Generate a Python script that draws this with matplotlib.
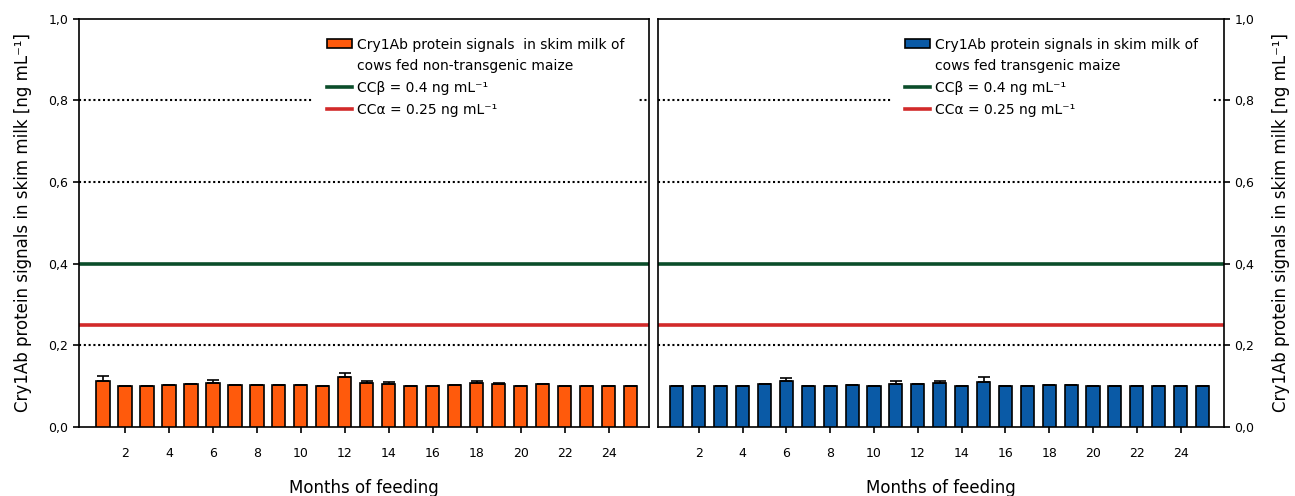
import numpy as np
import matplotlib
matplotlib.use("Agg")
import matplotlib.pyplot as plt
from matplotlib.patches import Patch
from matplotlib.lines import Line2D

# Cry1Ab signals per month of feeding (ng/mL), upper SEM only
months = np.arange(1, 26)
control_mean = [0.112, 0.100, 0.100, 0.103, 0.105, 0.107, 0.102, 0.103, 0.104, 0.103,
                0.101, 0.123, 0.108, 0.106, 0.100, 0.100, 0.102, 0.107, 0.105, 0.100,
                0.105, 0.100, 0.100, 0.100, 0.100]
control_err = [0.012, 0.0, 0.0, 0.001, 0.001, 0.009, 0.0, 0.0, 0.0, 0.0,
               0.0, 0.009, 0.005, 0.004, 0.0, 0.0, 0.0, 0.006, 0.003, 0.0,
               0.001, 0.0, 0.0, 0.0, 0.0]
gm_mean = [0.100, 0.100, 0.100, 0.100, 0.105, 0.112, 0.100, 0.100, 0.104, 0.100,
           0.106, 0.105, 0.107, 0.100, 0.111, 0.100, 0.100, 0.103, 0.103, 0.100,
           0.100, 0.100, 0.100, 0.100, 0.100]
gm_err = [0.0, 0.0, 0.0, 0.0, 0.001, 0.007, 0.0, 0.0, 0.0, 0.0,
          0.006, 0.001, 0.005, 0.0, 0.011, 0.0, 0.0, 0.0, 0.0, 0.0,
          0.0, 0.0, 0.0, 0.0, 0.0]

cc_beta = 0.4
cc_alpha = 0.25
grid_levels = [0.2, 0.6, 0.8]
xtick_months = np.arange(2, 25, 2)
ytick_vals = [0.0, 0.2, 0.4, 0.6, 0.8, 1.0]
ytick_labels = ["0,0", "0,2", "0,4", "0,6", "0,8", "1,0"]

orange = "#FF5A0C"
blue = "#0A5AA6"
green = "#0B4D2A"
red = "#D22A2A"

plt.rcParams["font.family"] = "DejaVu Sans"

fig = plt.figure(figsize=(12.95, 4.96), dpi=100)
ax1 = fig.add_axes([0.061, 0.139, 0.440, 0.823])
ax2 = fig.add_axes([0.508, 0.139, 0.437, 0.823])

ylabel = "Cry1Ab protein signals in skim milk [ng mL⁻¹]"

panels = [
    (ax1, control_mean, control_err, orange,
     ["Cry1Ab protein signals  in skim milk of", "cows fed non-transgenic maize"],
     (-0.09, 25.82), 0.4105),
    (ax2, gm_mean, gm_err, blue,
     ["Cry1Ab protein signals in skim milk of", "cows fed transgenic maize"],
     (0.13, 25.97), 0.4117),
]

for ax, mean, err, color, label, xlim, leg_x in panels:
    for lvl in grid_levels:
        ax.axhline(lvl, color="black", ls=(0, (1, 1.3)), lw=1.5, zorder=1)
    ax.axhline(cc_beta, color=green, lw=2.6, zorder=2)
    ax.axhline(cc_alpha, color=red, lw=2.6, zorder=2)

    ax.bar(months, mean, width=0.6, color=color, edgecolor="black",
           linewidth=1.2, zorder=3)
    ax.errorbar(months, mean, yerr=[np.zeros(len(err)), err], fmt="none",
                ecolor="black", elinewidth=1.2, capsize=4.5, capthick=1.2, zorder=4)

    ax.set_xlim(*xlim)
    ax.set_ylim(0, 1.0)
    ax.set_xticks(xtick_months)
    ax.set_yticks(ytick_vals)
    ax.set_yticklabels(ytick_labels)
    ax.tick_params(axis="both", direction="out", length=4.3, width=1.2,
                   labelsize=9, pad=3.5)
    ax.tick_params(axis="x", pad=10)
    for sp in ax.spines.values():
        sp.set_linewidth(1.2)
    ax.set_xlabel("Months of feeding", fontsize=12, labelpad=14)

    # second text line gets its own blank handle so the box sits on line one
    handles = [
        Patch(facecolor=color, edgecolor="black", linewidth=1.2),
        Patch(facecolor="none", edgecolor="none"),
        Line2D([0], [0], color=green, lw=2.6),
        Line2D([0], [0], color=red, lw=2.6),
    ]
    labels = label + [f"CCβ = {cc_beta} ng mL⁻¹", f"CCα = {cc_alpha} ng mL⁻¹"]
    leg = ax.legend(handles, labels, loc="upper left", bbox_to_anchor=(leg_x, 0.988),
                    fontsize=10, frameon=True, fancybox=False, framealpha=1,
                    edgecolor="none", facecolor="white", handlelength=1.8,
                    handleheight=0.65, handletextpad=0.4, labelspacing=0.55,
                    borderpad=1.0, borderaxespad=0)
    leg.set_zorder(5)

ax1.set_ylabel(ylabel, fontsize=12)
ax1.yaxis.set_label_coords(-0.082, 0.5)
ax2.yaxis.tick_right()
ax2.yaxis.set_label_position("right")
ax2.set_ylabel(ylabel, fontsize=12)
ax2.yaxis.set_label_coords(1.085, 0.5)

fig.savefig("out.png", dpi=100)
